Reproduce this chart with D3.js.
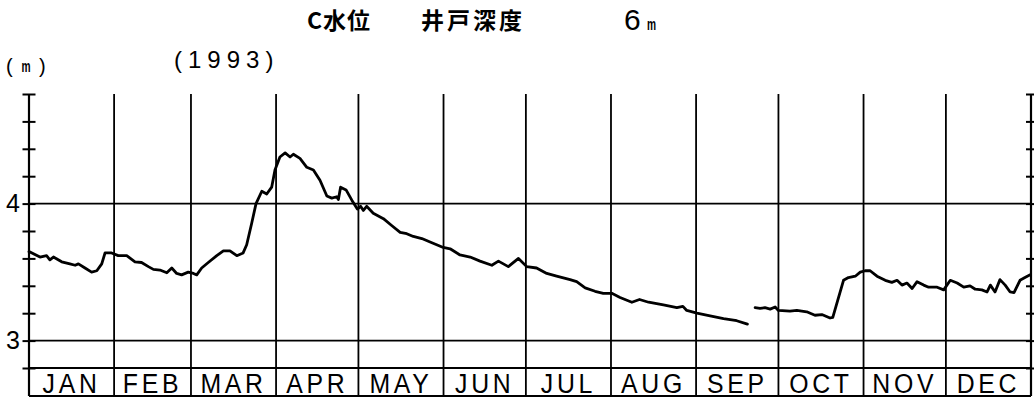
<!DOCTYPE html>
<html>
<head>
<meta charset="utf-8">
<script src="https://cdn.jsdelivr.net/npm/d3@7"></script>
<style>
  html, body { margin: 0; padding: 0; background: #fff; }
  svg { display: block; }
</style>
</head>
<body>
<svg id="chart" width="1034" height="398"></svg>
<script>
// Well C groundwater level, well depth 6 m, daily record for 1993.
const year = 1993;
const monthNames = ["JAN", "FEB", "MAR", "APR", "MAY", "JUN", "JUL", "AUG", "SEP", "OCT", "NOV", "DEC"];

// Day of year (0 = Jan 1) and water level in metres; null marks the missing record.
const dayOfYear = [
  0, 4.0, 6.4, 7.6, 8.9, 11.9, 14.9, 16.8, 18.0, 20.4, 22.8, 24.7, 26.5, 27.7, 30.1, 32.5,
  35.6, 38.6, 41.0, 43.5, 45.3, 47.7, 50.2, 52.0, 53.8, 55.6, 58.0, 59.9, 61.1, 62.9, 65.3,
  68.4, 70.8, 73.2, 75.7, 78.0, 79.3, 81.1, 82.7, 84.8, 86.6, 88.4, 89.6, 91.4, 93.3, 95.1,
  96.3, 98.7, 101.2, 103.6, 106.0, 108.5, 110.3, 112.1, 112.7, 113.5, 115.5, 117.6, 119.6,
  120.8, 121.8, 123.0, 125.4, 129.1, 132.1, 135.2, 137.6, 140.0, 143.1, 146.1, 150.9, 153.4,
  157.0, 160.7, 164.3, 168.6, 171.0, 174.6, 178.3, 181.3, 184.9, 188.6, 192.2, 197.1, 199.5,
  202.6, 206.2, 209.2, 212.3, 215.3, 219.6, 222.4, 225.7, 231.1, 236.0, 238.2, 239.6, 243.3,
  248.1, 253.0, 257.8, 261.7, 263.0, 264.5, 266.3, 268.1, 270.0, 271.8, 273.0, 277.2, 279.7,
  283.3, 286.3, 288.8, 291.8, 292.8, 296.7, 298.5, 301.0, 302.8, 304.6, 306.4, 308.9, 311.9,
  314.3, 316.2, 318.0, 319.8, 321.7, 323.5, 325.9, 327.7, 330.8, 333.2, 335.6, 338.1, 340.5,
  342.8, 344.7, 347.1, 349.0, 350.2, 351.9, 353.7, 355.6, 357.4, 358.8, 361.0, 362.8, 364.7
];
const waterLevel = [
  3.65, 3.61, 3.62, 3.59, 3.61, 3.575, 3.56, 3.55, 3.56, 3.53, 3.50, 3.51, 3.56, 3.64, 3.64, 3.62,
  3.62, 3.575, 3.57, 3.54, 3.52, 3.515, 3.495, 3.53, 3.49, 3.48, 3.50, 3.49, 3.48, 3.53, 3.57,
  3.62, 3.655, 3.655, 3.62, 3.64, 3.70, 3.855, 4.00, 4.09, 4.07, 4.12, 4.245, 4.34, 4.37, 4.34,
  4.36, 4.33, 4.265, 4.245, 4.17, 4.055, 4.04, 4.05, 4.03, 4.12, 4.10, 4.025, 3.96,
  3.98, 3.95, 3.98, 3.93, 3.89, 3.84, 3.79, 3.78, 3.76, 3.745, 3.72, 3.68, 3.67,
  3.625, 3.61, 3.58, 3.55, 3.58, 3.54, 3.60, 3.54, 3.53, 3.49, 3.47, 3.445, 3.43,
  3.385, 3.36, 3.345, 3.345, 3.315, 3.28, 3.30, 3.28, 3.26, 3.24, 3.25, 3.22, 3.20,
  3.18, 3.16, 3.145, 3.12, null, 3.24, 3.235, 3.24, 3.23, 3.245, 3.22, 3.215, 3.22,
  3.21, 3.185, 3.19, 3.165, 3.17, 3.44, 3.46, 3.47, 3.50, 3.51, 3.51, 3.47, 3.44,
  3.425, 3.44, 3.405, 3.42, 3.38, 3.43, 3.405, 3.39, 3.39, 3.37, 3.44, 3.42, 3.39,
  3.40, 3.375, 3.37, 3.355, 3.405, 3.355, 3.445, 3.405, 3.355, 3.35, 3.44, 3.46, 3.48
];

// Level axis: minor ticks every 0.2 m, labelled at whole metres.
const levelTicks = [2.8, 3.0, 3.2, 3.4, 3.6, 3.8, 4.0, 4.2, 4.4, 4.6, 4.8];
const levelLabels = [3, 4];
const levelDomain = [2.8, 4.8];

const svg = d3.select("#chart");
const plotLeft = 29, plotRight = 1031, plotTop = 94, plotBottom = 368, boxBottom = 396;
const ink = "#000";
const latin = "'Liberation Sans', Arial, sans-serif";

const t0 = Date.UTC(year, 0, 1);
const dateOf = d => new Date(t0 + d * 864e5);

const x = d3.scaleUtc()
  .domain([new Date(Date.UTC(year, 0, 1)), new Date(Date.UTC(year + 1, 0, 1))])
  .range([plotLeft, plotRight]);
const y = d3.scaleLinear().domain(levelDomain).range([plotBottom, plotTop]);

const monthStarts = d3.range(12).map(m => new Date(Date.UTC(year, m, 1)));
const monthEnds = d3.range(12).map(m => new Date(Date.UTC(year, m + 1, 1)));

// Horizontal reference lines at the labelled levels
svg.append("g").selectAll("line").data(levelLabels).join("line")
  .attr("x1", plotLeft).attr("x2", plotRight)
  .attr("y1", d => y(d)).attr("y2", d => y(d))
  .attr("stroke", ink).attr("stroke-width", 1.6);

// Month label strip
svg.append("line").attr("x1", plotLeft).attr("x2", plotRight)
  .attr("y1", plotBottom).attr("y2", plotBottom)
  .attr("stroke", ink).attr("stroke-width", 1.8);
svg.append("line").attr("x1", plotLeft).attr("x2", plotRight)
  .attr("y1", boxBottom).attr("y2", boxBottom)
  .attr("stroke", ink).attr("stroke-width", 1.8);

// Month dividers
svg.append("g").selectAll("line").data(monthStarts.slice(1)).join("line")
  .attr("x1", d => x(d)).attr("x2", d => x(d))
  .attr("y1", plotTop).attr("y2", boxBottom)
  .attr("stroke", ink).attr("stroke-width", 1.8);

// Month names
svg.append("g").selectAll("text").data(monthNames).join("text")
  .attr("transform", (d, i) => `translate(${(x(monthStarts[i]) + x(monthEnds[i])) / 2},393) scale(0.92,1)`)
  .attr("text-anchor", "middle")
  .attr("font-family", latin)
  .attr("font-size", 27)
  .attr("letter-spacing", 4)
  .attr("fill", ink)
  .text(d => d);

// Left and right level axes (ticks cross the axis line)
svg.append("line").attr("x1", plotLeft).attr("x2", plotLeft).attr("y1", plotTop).attr("y2", boxBottom)
  .attr("stroke", ink).attr("stroke-width", 2.2);
svg.append("line").attr("x1", plotRight).attr("x2", plotRight).attr("y1", plotTop).attr("y2", boxBottom)
  .attr("stroke", ink).attr("stroke-width", 2.2);

const leftTicks = svg.append("g").attr("transform", `translate(${plotLeft + 6.5},0)`)
  .call(d3.axisLeft(y).tickValues(levelTicks).tickSize(13).tickFormat(""));
const rightTicks = svg.append("g").attr("transform", `translate(${plotRight - 5},0)`)
  .call(d3.axisRight(y).tickValues(levelTicks).tickSize(10).tickFormat(""));
[leftTicks, rightTicks].forEach(g => {
  g.select(".domain").remove();
  g.selectAll(".tick line").attr("stroke", ink).attr("stroke-width", 2);
});

const labelAxis = svg.append("g").attr("transform", `translate(${plotLeft},0)`)
  .call(d3.axisLeft(y).tickValues(levelLabels).tickSize(0).tickPadding(9).tickFormat(d3.format("d")));
labelAxis.select(".domain").remove();
labelAxis.selectAll("text")
  .attr("font-family", latin)
  .attr("font-size", 25)
  .attr("fill", ink);

// Water level trace
const points = dayOfYear.map((d, i) => ({ date: dateOf(d), v: waterLevel[i] }));
const line = d3.line()
  .defined(d => d.v != null)
  .x(d => x(d.date))
  .y(d => y(d.v))
  .curve(d3.curveLinear);
svg.append("path").datum(points)
  .attr("d", line)
  .attr("fill", "none")
  .attr("stroke", ink)
  .attr("stroke-width", 2.8)
  .attr("stroke-linejoin", "round")
  .attr("stroke-linecap", "round");

// Titles
const cjk = "'Noto Sans CJK JP', 'Noto Sans CJK SC', sans-serif";
svg.append("text").attr("x", 307).attr("y", 29)
  .attr("font-family", cjk).attr("font-size", 23).attr("font-weight", 700)
  .attr("letter-spacing", 1).attr("fill", ink).text("C水位");
svg.append("text").attr("x", 421).attr("y", 29)
  .attr("font-family", cjk).attr("font-size", 23).attr("font-weight", 700)
  .attr("letter-spacing", 3).attr("fill", ink).text("井戸深度");
svg.append("text").attr("x", 624).attr("y", 30)
  .attr("font-family", latin).attr("font-size", 30)
  .attr("fill", ink).text("6");
svg.append("text").attr("transform", "translate(647,30) scale(0.6,1)")
  .attr("font-family", latin).attr("font-size", 17)
  .attr("font-weight", 700).attr("fill", ink).text("m");

svg.append("text").attr("x", 174).attr("y", 68)
  .attr("font-family", latin).attr("font-size", 24)
  .attr("letter-spacing", 6).attr("fill", ink).text("(1993)");

// Unit label "(m)"
const unit = svg.append("g").attr("font-family", latin).attr("fill", ink);
unit.append("text").attr("x", 6).attr("y", 73).attr("font-size", 20).text("(");
unit.append("text").attr("transform", "translate(21.5,72) scale(0.6,1)")
  .attr("font-size", 17).attr("font-weight", 700).text("m");
unit.append("text").attr("x", 39).attr("y", 73).attr("font-size", 20).text(")");
</script>
</body>
</html>
